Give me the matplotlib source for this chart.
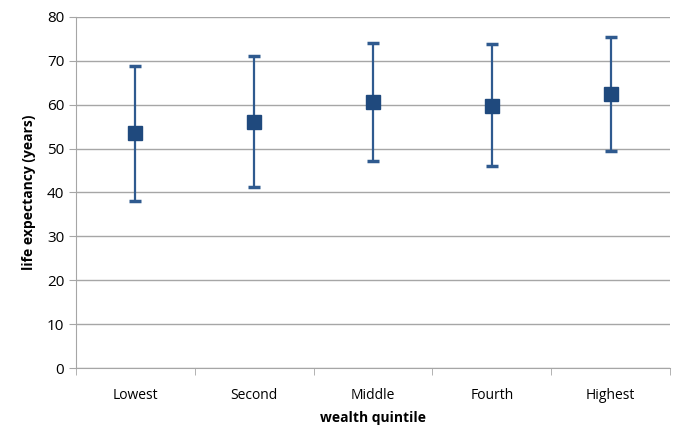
import matplotlib
matplotlib.use("Agg")
from matplotlib import pyplot as plt

# data
quintiles = ["Lowest", "Second", "Middle", "Fourth", "Highest"]
life_exp = [53.5, 56.0, 60.6, 59.7, 62.4]
upper = [68.8, 71.0, 74.0, 73.7, 75.4]
lower = [38.0, 41.3, 47.2, 46.1, 49.4]

plt.rcParams["font.family"] = ["Open Sans", "DejaVu Sans"]

fig = plt.figure(figsize=(6.85, 4.43), dpi=100)
ax = fig.add_axes([0.111, 0.169, 0.867, 0.793])

x = list(range(len(quintiles)))
err = [[m - lo for m, lo in zip(life_exp, lower)],
       [hi - m for m, hi in zip(life_exp, upper)]]
ax.errorbar(x, life_exp, yerr=err, fmt="s", color="#1f497d", ecolor="#2f5a8f",
            markersize=9.5, elinewidth=1.6, capsize=4.5, capthick=2.5, zorder=3)

ax.set_xlim(-0.5, 4.5)
ax.set_ylim(0, 80)
ax.set_yticks(range(0, 81, 10))
ax.set_xticks(x)
ax.set_xticklabels(quintiles)
ax.set_xticks([i + 0.5 for i in range(-1, 5)], minor=True)

ax.grid(axis="y", color="#a6a6a6", linewidth=1)
ax.set_axisbelow(True)
for s in ["top", "right"]:
    ax.spines[s].set_visible(False)
for s in ["left", "bottom"]:
    ax.spines[s].set_color("#a6a6a6")
ax.tick_params(axis="x", which="major", length=0, pad=14, labelsize=10)
ax.tick_params(axis="x", which="minor", length=5, color="#a6a6a6")
ax.tick_params(axis="y", length=5, color="#a6a6a6", labelsize=11)

ax.set_xlabel("wealth quintile", fontsize=10, fontweight="bold", labelpad=6)
ax.set_ylabel("life expectancy (years)", fontsize=10, fontweight="bold", labelpad=8)

fig.savefig("out.png", dpi=100)
